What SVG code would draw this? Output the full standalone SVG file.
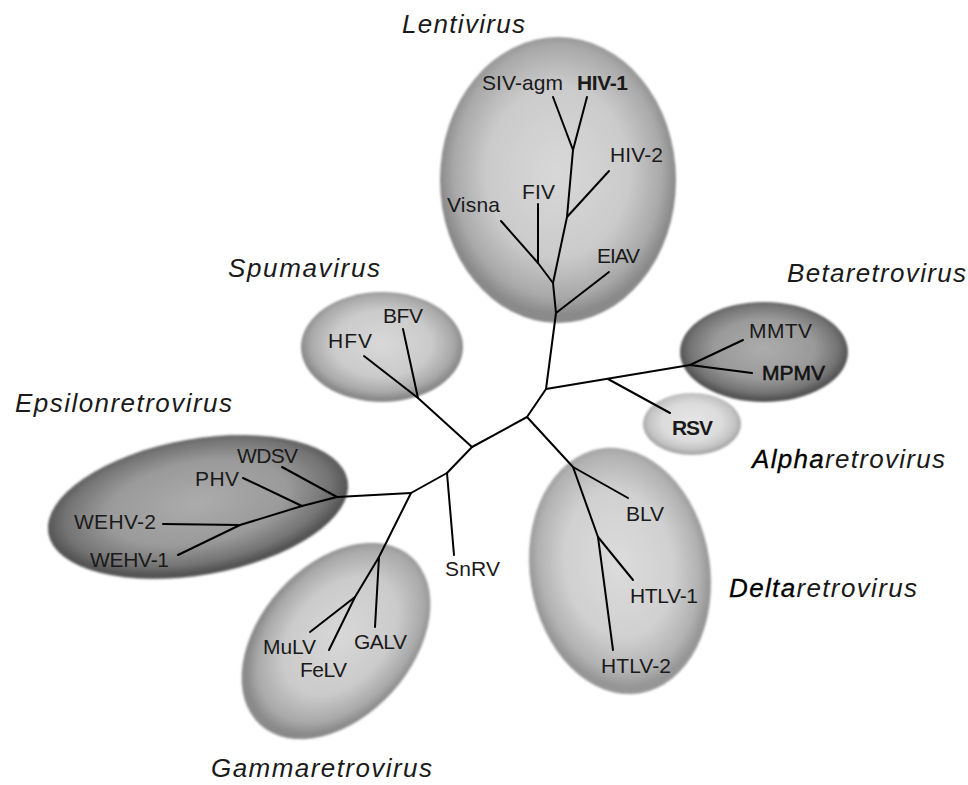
<svg xmlns="http://www.w3.org/2000/svg" width="968" height="785" viewBox="0 0 968 785">
<style>
.lbl{font-family:"Liberation Sans",Arial,sans-serif;font-size:21px;fill:#1a1a1a}
.b{font-weight:bold}
.ttl{font-family:"Liberation Sans",Arial,sans-serif;font-size:26px;font-style:italic;fill:#1a1a1a}
.hv{stroke:#000;stroke-width:0.5}
.hs{stroke:#000;stroke-width:0.3}
.br{fill:none;stroke:#000;stroke-width:2;stroke-linejoin:round;stroke-linecap:round}
</style>
<defs>
<radialGradient id="gMid" cx="50%" cy="47%" r="50%">
<stop offset="0" stop-color="#d8d8d8"/><stop offset="0.6" stop-color="#cbcbcb"/><stop offset="0.88" stop-color="#a9a9a9"/><stop offset="1" stop-color="#8a8a8a"/>
</radialGradient>
<radialGradient id="gDark" cx="50%" cy="47%" r="50%">
<stop offset="0" stop-color="#acacac"/><stop offset="0.6" stop-color="#9a9a9a"/><stop offset="0.88" stop-color="#747474"/><stop offset="1" stop-color="#555"/>
</radialGradient>
<radialGradient id="gLight" cx="50%" cy="47%" r="50%">
<stop offset="0" stop-color="#e6e6e6"/><stop offset="0.6" stop-color="#dcdcdc"/><stop offset="0.88" stop-color="#c4c4c4"/><stop offset="1" stop-color="#aaaaaa"/>
</radialGradient>
<radialGradient id="gDelta" cx="50%" cy="47%" r="50%">
<stop offset="0" stop-color="#dcdcdc"/><stop offset="0.6" stop-color="#d0d0d0"/><stop offset="0.88" stop-color="#b2b2b2"/><stop offset="1" stop-color="#969696"/>
</radialGradient>
<filter id="soft" x="-5%" y="-5%" width="110%" height="110%"><feGaussianBlur stdDeviation="1"/></filter>
</defs>
<rect width="968" height="785" fill="#fff"/>

<g id="lentivirus">
<ellipse cx="558" cy="180" rx="118" ry="143" fill="url(#gMid)" filter="url(#soft)"/>
<text class="ttl" x="402" y="33" textLength="123" lengthAdjust="spacing">Lentivirus</text>
<text class="lbl" x="482" y="90" textLength="81">SIV-agm</text>
<text class="lbl b" x="577" y="90" textLength="51">HIV-1</text>
<text class="lbl" x="610" y="162" textLength="53">HIV-2</text>
<text class="lbl" x="522" y="199" textLength="33">FIV</text>
<text class="lbl" x="447" y="212" textLength="53">Visna</text>
<text class="lbl" x="597" y="263" textLength="43">EIAV</text>
</g>

<g id="spumavirus">
<ellipse cx="382" cy="347" rx="81" ry="55" fill="url(#gMid)" filter="url(#soft)"/>
<text class="ttl" x="228" y="277" textLength="152" lengthAdjust="spacing">Spumavirus</text>
<text class="lbl" x="328" y="348" textLength="44">HFV</text>
<text class="lbl" x="383" y="323" textLength="40">BFV</text>
</g>

<g id="epsilonretrovirus">
<ellipse cx="198" cy="507" rx="152" ry="68" transform="rotate(-10 198 507)" fill="url(#gDark)" filter="url(#soft)"/>
<text class="ttl" x="15" y="412" textLength="217" lengthAdjust="spacing">Epsilonretrovirus</text>
<text class="lbl" x="237" y="463" textLength="61">WDSV</text>
<text class="lbl" x="195" y="486" textLength="44">PHV</text>
<text class="lbl" x="74" y="529" textLength="82">WEHV-2</text>
<text class="lbl" x="90" y="567" textLength="79">WEHV-1</text>
</g>

<g id="betaretrovirus">
<ellipse cx="764" cy="352" rx="84" ry="50" fill="url(#gDark)" filter="url(#soft)"/>
<text class="ttl" x="787" y="282" textLength="179" lengthAdjust="spacing">Betaretrovirus</text>
<text class="lbl" x="749" y="338" textLength="63">MMTV</text>
<text class="lbl hv" x="762" y="380" textLength="63">MPMV</text>
</g>

<g id="alpharetrovirus">
<ellipse cx="692" cy="424" rx="49" ry="31" fill="url(#gLight)" filter="url(#soft)"/>
<text class="lbl b" x="672" y="435" textLength="41">RSV</text>
<text class="ttl" x="752" y="468" textLength="193" lengthAdjust="spacing"><tspan fill="#000" class="hs">Alpha</tspan>retrovirus</text>
</g>

<g id="deltaretrovirus">
<ellipse cx="620" cy="571" rx="90" ry="124" transform="rotate(-9 620 571)" fill="url(#gDelta)" filter="url(#soft)"/>
<text class="ttl" x="729" y="597" textLength="188" lengthAdjust="spacing"><tspan fill="#000" class="hs">Delta</tspan>retrovirus</text>
<text class="lbl" x="626" y="521" textLength="38">BLV</text>
<text class="lbl" x="630" y="603" textLength="68">HTLV-1</text>
<text class="lbl" x="601" y="673" textLength="70">HTLV-2</text>
</g>

<g id="gammaretrovirus">
<ellipse cx="336" cy="641" rx="76" ry="113" transform="rotate(42 336 641)" fill="url(#gMid)" filter="url(#soft)"/>
<text class="ttl" x="211" y="777" textLength="221" lengthAdjust="spacing">Gammaretrovirus</text>
<text class="lbl" x="263" y="654" textLength="53">MuLV</text>
<text class="lbl" x="300" y="677" textLength="47">FeLV</text>
<text class="lbl" x="354" y="649" textLength="53">GALV</text>
</g>

<g id="snrv">
<text class="lbl" x="445" y="576" textLength="55">SnRV</text>
</g>

<g id="connectors" class="br">
<path d="M553,97 L573,150 L587,97"/>
<path d="M573,150 L567,217 L553,283 L556,313 L546,389"/>
<path d="M567,217 L609,171"/>
<path d="M501,221 L538,263 L553,283"/>
<path d="M538,204 L538,263"/>
<path d="M556,313 L609,272"/>
<path d="M546,389 L690,365 L743,340"/>
<path d="M690,365 L752,373"/>
<path d="M608,379 L670,413"/>
<path d="M546,389 L527,417 L472,447"/>
<path d="M527,417 L573,467 L598,537 L613,650"/>
<path d="M573,467 L628,498"/>
<path d="M598,537 L633,580"/>
<path d="M472,447 L418,398 L364,356"/>
<path d="M403,329 L418,398"/>
<path d="M472,447 L447,473 L411,493 L337,497 L302,506 L240,525 L178,555"/>
<path d="M447,473 L454,555"/>
<path d="M282,467 L337,497"/>
<path d="M243,478 L302,506"/>
<path d="M163,524 L240,525"/>
<path d="M411,493 L379,557 L355,597 L310,632"/>
<path d="M355,597 L329,650"/>
<path d="M379,557 L375,627"/>
</g>
</svg>
